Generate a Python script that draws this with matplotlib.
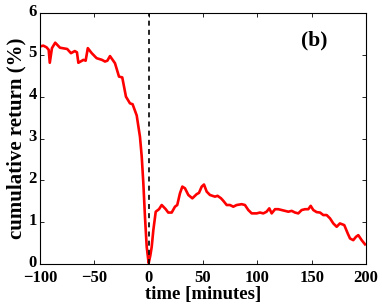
import matplotlib
matplotlib.use("Agg")
import matplotlib.pyplot as plt
import matplotlib.transforms as mtransforms

t = [-100, -97, -94, -92, -91, -89, -86, -81.6, -75, -71.5, -68, -66, -64.7, -60, -58, -56,
     -52.4, -47.9, -43, -40.2, -38, -35.6, -31, -27.3, -24.3, -20.9, -17.2, -14.8, -11,
     -8, -6.4, -4.9, -3.4, -1.8, 0, 1.5, 2.8, 4.3, 6.5, 9.5, 12, 13.5, 15.7, 18, 21.2,
     24.2, 26.3, 28.8, 31, 33.4, 36.5, 40.2, 44.2, 46.3, 48.8, 50.9, 53.4, 56.4, 61, 63.4,
     66.6, 68.7, 71.8, 74.8, 77.9, 81, 85.6, 88.6, 91.7, 94.8, 99.4, 102.4, 105.5, 108.5,
     111, 113.2, 116.3, 119.3, 122.4, 125.5, 128.5, 131.6, 134.7, 137.7, 140.8, 143.9,
     146.9, 149.1, 151.5, 154.6, 157.7, 160.7, 163.8, 166.9, 169.9, 173, 176, 180, 183.2,
     185.3, 188.3, 190.8, 192.9, 196, 199.1]
ret = [5.20, 5.22, 5.18, 5.12, 4.81, 5.16, 5.29, 5.17, 5.14, 5.04, 5.09, 5.06, 4.81, 4.88,
       4.86, 5.16, 5.04, 4.92, 4.88, 4.84, 4.86, 4.97, 4.80, 4.48, 4.46, 4.00, 3.84, 3.82,
       3.55, 3.04, 2.57, 1.93, 1.13, 0.41, 0.02, 0.20, 0.41, 0.81, 1.25, 1.31, 1.41, 1.37,
       1.31, 1.23, 1.23, 1.37, 1.41, 1.69, 1.85, 1.81, 1.65, 1.57, 1.67, 1.70, 1.85, 1.90,
       1.73, 1.65, 1.61, 1.63, 1.57, 1.51, 1.41, 1.41, 1.37, 1.41, 1.43, 1.41, 1.29, 1.21,
       1.21, 1.23, 1.21, 1.25, 1.33, 1.21, 1.31, 1.31, 1.29, 1.27, 1.25, 1.27, 1.23, 1.21,
       1.29, 1.31, 1.31, 1.39, 1.29, 1.24, 1.23, 1.17, 1.17, 1.09, 0.97, 0.89, 0.97, 0.93,
       0.73, 0.61, 0.57, 0.65, 0.69, 0.57, 0.47]

xticks = [-100, -50, 0, 50, 100, 150, 200]
yticks = [0, 1, 2, 3, 4, 5, 6]

plt.rcParams['font.family'] = ['Liberation Serif', 'DejaVu Serif']
plt.rcParams['font.weight'] = 'bold'
plt.rcParams['axes.unicode_minus'] = True

fig = plt.figure(figsize=(3.82, 3.06), dpi=100)
ax = fig.add_axes([40/382, 1-264/306, 326/382, 251/306])

ax.plot(t, ret, color='red', linewidth=1.9)
ax.plot([0, 0], [0, 6], color='black', linestyle=(0, (3, 2.5)), linewidth=1.2)

ax.set_xlim(-100, 200)
ax.set_ylim(0, 6)
ax.set_xticks(xticks)
ax.set_yticks(yticks)
ax.tick_params(direction='in', top=True, right=True, length=3, width=0.6,
               labelsize=12)
ax.tick_params(axis='x', pad=4.5)
ax.tick_params(axis='y', pad=2.5)
for lbl in ax.get_xticklabels() + ax.get_yticklabels():
    lbl.set_fontweight('bold')
shift = mtransforms.ScaledTranslation(0, 2.5/72, fig.dpi_scale_trans)
for lbl in ax.get_yticklabels():
    lbl.set_transform(lbl.get_transform() + shift)
for s in ax.spines.values():
    s.set_linewidth(0.8)

ax.set_xlabel('time [minutes]', fontsize=13.5, fontweight='bold', labelpad=0)
ax.set_ylabel('cumulative return (%)', fontsize=15, fontweight='bold', labelpad=1)
ax.text(152.6, 5.35, '(b)', fontsize=15.5, fontweight='bold', ha='center', va='center')

fig.savefig('out.png', dpi=100)
